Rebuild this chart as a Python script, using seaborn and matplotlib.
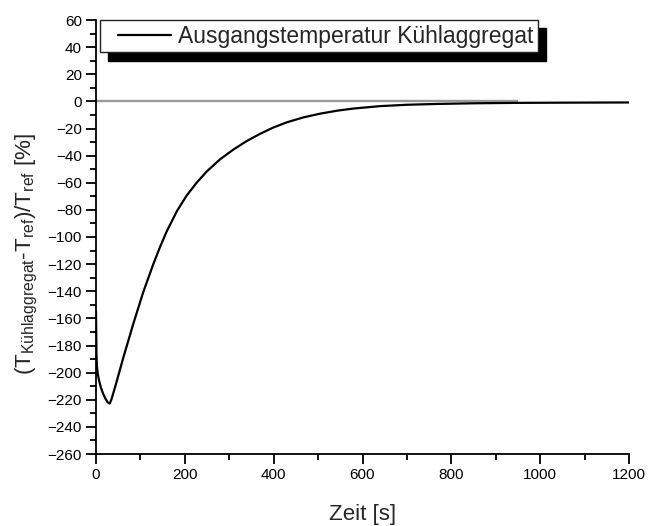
import matplotlib
matplotlib.use("Agg")
import matplotlib.pyplot as plt
import seaborn as sns
import pandas as pd
from matplotlib.ticker import MultipleLocator
from matplotlib.legend_handler import HandlerLine2D

# ---- data ----
zeit = [0, 0.5, 1, 2, 4, 7, 11, 16, 21, 26, 31, 35, 40, 47, 61, 84, 106, 129, 144,
        159, 182, 204, 227, 249, 279, 309, 339, 369, 399, 430, 467, 504, 542, 579,
        640, 700, 767, 850, 950, 1050, 1200]
abweichung = [-155, -170, -185, -195, -201, -206, -211, -215.5, -219, -221.8, -222.8,
              -219.5, -214, -206, -189.5, -164, -141, -120, -107.5, -96, -81, -69.5,
              -59.8, -51.8, -42.8, -35.6, -29.3, -24, -19.3, -15.4, -11.8, -9.1, -6.9,
              -5.3, -3.5, -2.5, -1.9, -1.4, -1.1, -0.95, -0.8]
ref_x = [0, 950]
ref_y = 0
serie = "Ausgangstemperatur Kühlaggregat"

df = pd.DataFrame({"Zeit": zeit, "Wert": abweichung, "Serie": serie})

sns.set_style("ticks")
plt.rcParams["font.family"] = ["Liberation Sans", "DejaVu Sans"]
plt.rcParams["mathtext.fontset"] = "custom"
plt.rcParams["mathtext.rm"] = "Liberation Sans"
plt.rcParams["mathtext.it"] = "Liberation Sans"

fig = plt.figure(figsize=(6.49, 5.26), dpi=100)
ax = fig.add_axes([96 / 649, 1 - 454 / 526, 533 / 649, 434 / 526])

ax.hlines(ref_y, ref_x[0], ref_x[1], color="#999999", lw=1.7, zorder=1)
sns.lineplot(data=df, x="Zeit", y="Wert", hue="Serie", palette=["black"],
             lw=1.6, ax=ax, zorder=2)

ax.set_xlim(0, 1200)
ax.set_ylim(-260, 60)
ax.xaxis.set_major_locator(MultipleLocator(200))
ax.xaxis.set_minor_locator(MultipleLocator(100))
ax.yaxis.set_major_locator(MultipleLocator(20))
ax.yaxis.set_minor_locator(MultipleLocator(10))
ax.tick_params(which="major", direction="out", length=7, width=1.3,
               labelsize=11, color="black", labelcolor="black", pad=3)
ax.tick_params(which="minor", direction="out", length=4, width=1.3, color="black")
for s in ["top", "right"]:
    ax.spines[s].set_visible(False)
for s in ["left", "bottom"]:
    ax.spines[s].set_linewidth(1.3)
    ax.spines[s].set_color("black")

ax.set_xlabel("Zeit [s]", fontsize=16, labelpad=16)
ax.set_ylabel(r"(T$_{\mathrm{Kühlaggregat}}$-T$_{\mathrm{ref}}$)/T$_{\mathrm{ref}}$ [%]",
              fontsize=16.2)
ax.yaxis.set_label_coords(-0.106, 0.461)


class OffsetLineHandler(HandlerLine2D):
    def create_artists(self, legend, orig_handle, xdescent, ydescent, width,
                       height, fontsize, trans):
        arts = super().create_artists(legend, orig_handle, xdescent, ydescent,
                                      width, height, fontsize, trans)
        for a in arts:
            xd = list(a.get_xdata())
            yd = list(a.get_ydata())
            if len(xd) >= 2 and len(xd) == len(yd) and a.get_linestyle() not in ("None", "", " "):
                x0 = xd[0] + 0.2 * (xd[-1] - xd[0])
                a.set_data([x0, xd[-1]], [yd[0], yd[-1]])
        return arts


handles, labels = ax.get_legend_handles_labels()
leg = ax.legend(handles, labels, loc="upper left", bbox_to_anchor=(4 / 533, 1.0),
                borderaxespad=0, fontsize=16.5, frameon=True, fancybox=False,
                borderpad=0.2, handlelength=2.9, handletextpad=0.3,
                handler_map={handles[0]: OffsetLineHandler()},
                shadow={"ox": 6, "oy": -6, "facecolor": "black",
                        "edgecolor": "black", "alpha": 1})
leg.get_frame().set_edgecolor("#222222")
leg.get_frame().set_linewidth(1.0)
leg.get_frame().set_alpha(1)

fig.savefig("out.png", dpi=100)
